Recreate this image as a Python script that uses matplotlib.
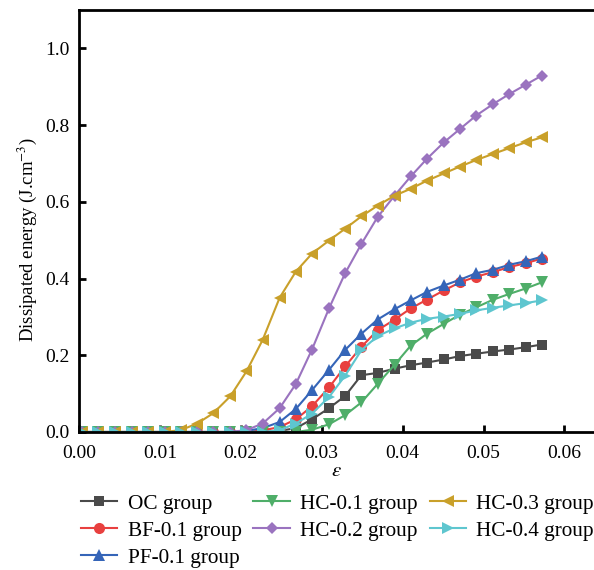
import matplotlib
matplotlib.use("Agg")
import matplotlib.pyplot as plt

plt.rcParams['font.family'] = ['Liberation Serif', 'DejaVu Serif']
plt.rcParams['mathtext.fontset'] = 'stix'

# strain values shared by every group
strain = [0.0004, 0.0024, 0.0045, 0.0065, 0.0085, 0.0106, 0.0126, 0.0146, 0.0166, 0.0187,
          0.0207, 0.0227, 0.0248, 0.0268, 0.0288, 0.0309, 0.0329, 0.0349, 0.0369, 0.0390,
          0.0410, 0.0430, 0.0451, 0.0471, 0.0491, 0.0512, 0.0532, 0.0552, 0.0572]

oc = [0, 0, 0, 0, 0, 0, 0, 0, 0, 0,
      0, 0, 0.003, 0.010, 0.033, 0.062, 0.094, 0.148, 0.154, 0.165,
      0.174, 0.181, 0.189, 0.198, 0.204, 0.210, 0.215, 0.221, 0.228]
bf = [0, 0, 0, 0, 0, 0, 0, 0, 0, 0,
      0, 0.004, 0.013, 0.033, 0.067, 0.116, 0.171, 0.222, 0.265, 0.293,
      0.322, 0.345, 0.369, 0.390, 0.405, 0.417, 0.430, 0.440, 0.452]
pf = [0, 0, 0, 0, 0, 0, 0, 0, 0, 0,
      0.003, 0.010, 0.026, 0.060, 0.109, 0.162, 0.214, 0.256, 0.293, 0.320,
      0.343, 0.365, 0.382, 0.397, 0.414, 0.423, 0.436, 0.445, 0.457]
hc01 = [0, 0, 0, 0, 0, 0, 0, 0, 0, 0,
        0, 0, 0, 0, 0.006, 0.020, 0.044, 0.077, 0.125, 0.175,
        0.225, 0.256, 0.282, 0.306, 0.325, 0.345, 0.360, 0.374, 0.390]
hc02 = [0, 0, 0, 0, 0, 0, 0, 0, 0, 0,
        0.005, 0.022, 0.062, 0.125, 0.215, 0.322, 0.414, 0.490, 0.560, 0.616,
        0.666, 0.712, 0.755, 0.790, 0.825, 0.855, 0.881, 0.905, 0.929]
hc03 = [0, 0, 0, 0, 0, 0, 0.005, 0.022, 0.049, 0.093,
        0.158, 0.240, 0.350, 0.418, 0.465, 0.499, 0.530, 0.562, 0.590, 0.616,
        0.634, 0.655, 0.674, 0.692, 0.709, 0.725, 0.740, 0.755, 0.768]
hc04 = [0, 0, 0, 0, 0, 0, 0, 0, 0, 0,
        0, 0, 0.005, 0.022, 0.048, 0.091, 0.147, 0.213, 0.250, 0.270,
        0.285, 0.295, 0.301, 0.308, 0.317, 0.324, 0.330, 0.336, 0.343]

groups = ["OC group", "BF-0.1 group", "PF-0.1 group", "HC-0.1 group",
          "HC-0.2 group", "HC-0.3 group", "HC-0.4 group"]
series = [oc, bf, pf, hc01, hc02, hc03, hc04]
colors = ["#4a4a4a", "#e8403f", "#3565b8", "#4fae69", "#9a73bf", "#c9a02a", "#5ec6cf"]
markers = ["s", "o", "^", "v", "D", "<", ">"]
msizes = [7, 8, 9, 9, 6.5, 9, 9]

fig = plt.figure(figsize=(5.94, 5.70), dpi=100)
ax = fig.add_axes([79/594, 138/570, 515/594, 422/570])

for y, name, c, m, ms in zip(series, groups, colors, markers, msizes):
    ax.plot(strain, y, color=c, marker=m, markersize=ms, linewidth=1.5,
            markeredgewidth=0, label=name)

ax.set_xlim(0, 515 / 8090)
ax.set_ylim(0, 1.1)
ax.set_xticks([0, 0.01, 0.02, 0.03, 0.04, 0.05, 0.06])
ax.set_xticklabels(["0.00", "0.01", "0.02", "0.03", "0.04", "0.05", "0.06"])
ax.set_yticks([0, 0.2, 0.4, 0.6, 0.8, 1.0])
ax.set_yticklabels(["0.0", "0.2", "0.4", "0.6", "0.8", "1.0"])
ax.tick_params(direction="in", length=5, width=2, labelsize=14)
ax.tick_params(axis="x", pad=9)
ax.tick_params(axis="y", pad=7)
ax.spines["right"].set_visible(False)
for s in ["left", "top", "bottom"]:
    ax.spines[s].set_linewidth(2)

ax.set_xlabel(r"$\varepsilon$", fontsize=15, labelpad=0)
ax.set_ylabel(r"Dissipated energy (J.cm$^{-3}$)", fontsize=13.5)
ax.yaxis.set_label_coords(-0.078, 0.455)

fig.legend(loc="upper left", bbox_to_anchor=(81/594, 1 - 494/570), ncol=3,
           frameon=False, fontsize=15.3, handlelength=1.7, handletextpad=0.5,
           columnspacing=0.55, labelspacing=0.33, borderaxespad=0, borderpad=0)

fig.savefig("out.png", dpi=100)
